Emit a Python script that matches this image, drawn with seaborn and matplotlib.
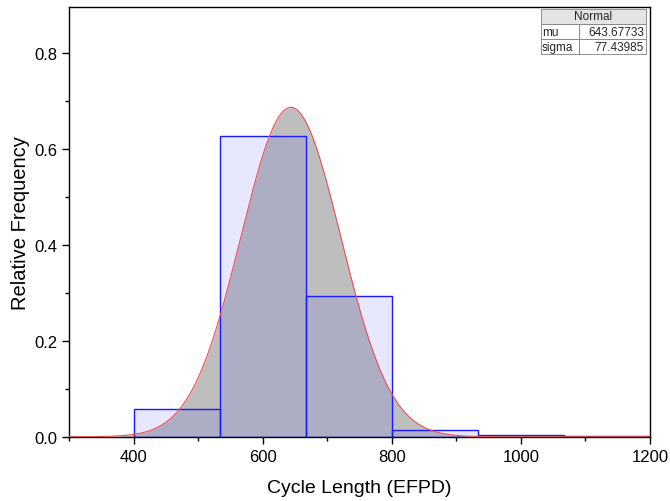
import numpy as np
import pandas as pd
import seaborn as sns
import matplotlib
matplotlib.use("Agg")
import matplotlib.pyplot as plt
from matplotlib.ticker import AutoMinorLocator

# Histogram of cycle lengths (relative frequency per bin)
bin_edges = [400.0, 533.333, 666.667, 800.0, 933.333, 1066.667, 1200.0]
rel_freq = [0.058, 0.627, 0.294, 0.015, 0.004, 0.002]

# Fitted normal distribution
mu = 643.67733
sigma = 77.43985
x_ticks = [400, 600, 800, 1000, 1200]
y_ticks = [0.0, 0.2, 0.4, 0.6, 0.8]

sns.set_theme(style="ticks")
plt.rcParams["font.family"] = ["Liberation Sans", "DejaVu Sans"]

fig, ax = plt.subplots(figsize=(6.7, 5.02), dpi=100)
fig.subplots_adjust(left=0.103, right=0.970, top=0.984, bottom=0.128)

# Normal curve scaled by bin width so it sits on the relative-frequency scale
width = bin_edges[1] - bin_edges[0]
xs = np.linspace(300, 1200, 600)
ys = width * np.exp(-0.5 * ((xs - mu) / sigma) ** 2) / (sigma * np.sqrt(2 * np.pi))
curve = pd.DataFrame({"x": xs, "y": ys})
ax.fill_between(curve["x"], curve["y"], color="#bebebe", zorder=1, linewidth=0)

centers = [(a + b) / 2 for a, b in zip(bin_edges[:-1], bin_edges[1:])]
hist_df = pd.DataFrame({"x": centers, "w": rel_freq})
sns.histplot(data=hist_df, x="x", weights="w", bins=bin_edges, stat="count",
             ax=ax, zorder=2)
for p in ax.patches:
    p.set_facecolor((0.1, 0.1, 0.95, 0.1))
    p.set_edgecolor("#1a1aff")
    p.set_linewidth(1.0)
    p.set_zorder(2)

sns.lineplot(data=curve, x="x", y="y", color="#f05050", linewidth=0.8, ax=ax, zorder=3)

ax.set_xlim(300, 1200)
ax.set_ylim(0, 0.896)
ax.set_xticks(x_ticks)
ax.set_yticks(y_ticks)
ax.set_yticklabels([f"{v:.1f}" for v in y_ticks])
ax.xaxis.set_minor_locator(AutoMinorLocator(2))
ax.yaxis.set_minor_locator(AutoMinorLocator(2))
ax.tick_params(axis="both", which="major", direction="out", length=5, width=1,
               labelsize=12, color="black", labelcolor="black")
ax.tick_params(axis="both", which="minor", direction="out", length=3, width=1, color="black")
ax.tick_params(top=False, right=False, which="both")
for s in ax.spines.values():
    s.set_visible(True)
    s.set_color("black")
    s.set_linewidth(1.0)

ax.set_xlabel("Cycle Length (EFPD)", fontsize=14, color="black", labelpad=11)
ax.set_ylabel("Relative Frequency", fontsize=14.5, color="black", labelpad=3)

# Fit parameter table in the top-right corner
hdr = ax.table(cellText=[["Normal"]], cellLoc="center",
               bbox=[0.8125, 0.9605, 0.181, 0.035])
hdr.auto_set_font_size(False)
hdr.set_fontsize(8.5)
for c in hdr.get_celld().values():
    c.set_facecolor("#e4e4e4")
    c.set_edgecolor("#808080")
    c.set_linewidth(0.6)
tbl = ax.table(cellText=[["mu", f"{mu:.5f}"], ["sigma", f"{sigma:.5f}"]],
               cellLoc="right", colWidths=[0.36, 0.64],
               bbox=[0.8125, 0.8905, 0.181, 0.070])
tbl.auto_set_font_size(False)
tbl.set_fontsize(8.5)
for (r, c), cell in tbl.get_celld().items():
    cell.set_edgecolor("#808080")
    cell.set_linewidth(0.6)
    cell.set_facecolor("white")
    cell.PAD = 0.03
    if c == 0:
        cell._loc = "left"
        cell.get_text().set_ha("left")
for t in (hdr, tbl):
    t.set_zorder(5)

fig.savefig("out.png", dpi=100)
